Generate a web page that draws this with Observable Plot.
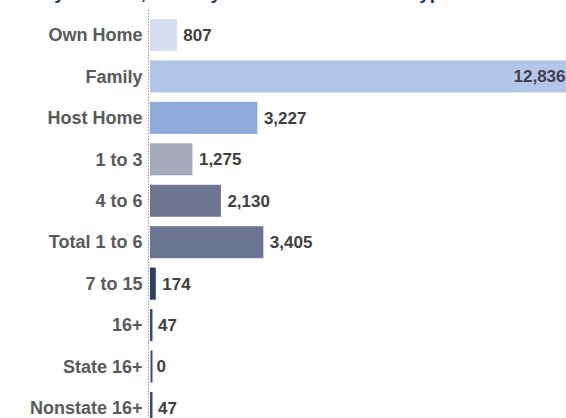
<!DOCTYPE html>
<html>
<head>
<meta charset="utf-8">
<script src="https://cdn.jsdelivr.net/npm/d3@7"></script>
<script src="https://cdn.jsdelivr.net/npm/@observablehq/plot@0.6"></script>
<style>
  html, body { margin: 0; padding: 0; background: #fff; overflow: hidden; width: 566px; height: 418px; }
  #wrap { position: relative; width: 566px; height: 418px; overflow: hidden; }
  #title { position: absolute; top: -17px; left: -26px; white-space: nowrap;
           font: bold 19px/1 "Liberation Sans", Arial, sans-serif; color: #1f3864; }
  #chart { position: absolute; top: 0; left: 0; }
  #chart svg { display: block; overflow: hidden; }
</style>
</head>
<body>
<div id="wrap">
  <div id="title">Served by June 30, 2019 by Residence Size and Type</div>
  <div id="chart"></div>
</div>
<script>
const categories = ["Own Home", "Family", "Host Home", "1 to 3", "4 to 6", "Total 1 to 6", "7 to 15", "16+", "State 16+", "Nonstate 16+"];
const values = [807, 12836, 3227, 1275, 2130, 3405, 174, 47, 0, 47];
const colors = ["#d5ddf0", "#b4c6e7", "#8eaadb", "#a6a9b9", "#6e7691", "#6b7592", "#2e3f66", "#3b4a70", "#3b4a70", "#3b4a70"];

const xMax = 12500;
const rows = categories.map((c, i) => ({cat: c, value: values[i], color: colors[i]}));
const fmt = d3.format(",");

const chart = Plot.plot({
  width: 566,
  height: 434,
  marginLeft: 150,
  marginRight: 0,
  marginTop: 9.56,
  marginBottom: 0.6,
  style: {fontFamily: "'Liberation Sans', Arial, sans-serif", fontSize: "17px", fontWeight: "bold", background: "transparent"},
  x: {domain: [0, xMax], axis: null},
  y: {domain: categories, padding: 0.228, round: false, label: null},
  marks: [
    Plot.ruleX([0], {dx: -2, stroke: "#9a9a9a", strokeDasharray: "1.5,1.5", strokeWidth: 1}),
    Plot.tickX(rows, {x: 0, y: "cat", dx: 1, stroke: "color", strokeWidth: 2}),
    Plot.barX(rows, {x: "value", y: "cat", fill: "color"}),
    Plot.text(rows, {filter: d => d.value <= xMax, x: "value", y: "cat", text: d => fmt(d.value), dx: 6, textAnchor: "start", fill: "#3f3f3f", fontSize: 17}),
    Plot.text(rows, {filter: d => d.value > xMax, x: () => xMax, y: "cat", text: d => fmt(d.value), dx: -1, textAnchor: "end", fill: "#3f3f4f", fontSize: 17}),
    Plot.axisY({tickSize: 0, tickPadding: 8, fill: "#5a5a5a", fontSize: 18, label: null})
  ]
});
document.getElementById("chart").appendChild(chart);
</script>
</body>
</html>
